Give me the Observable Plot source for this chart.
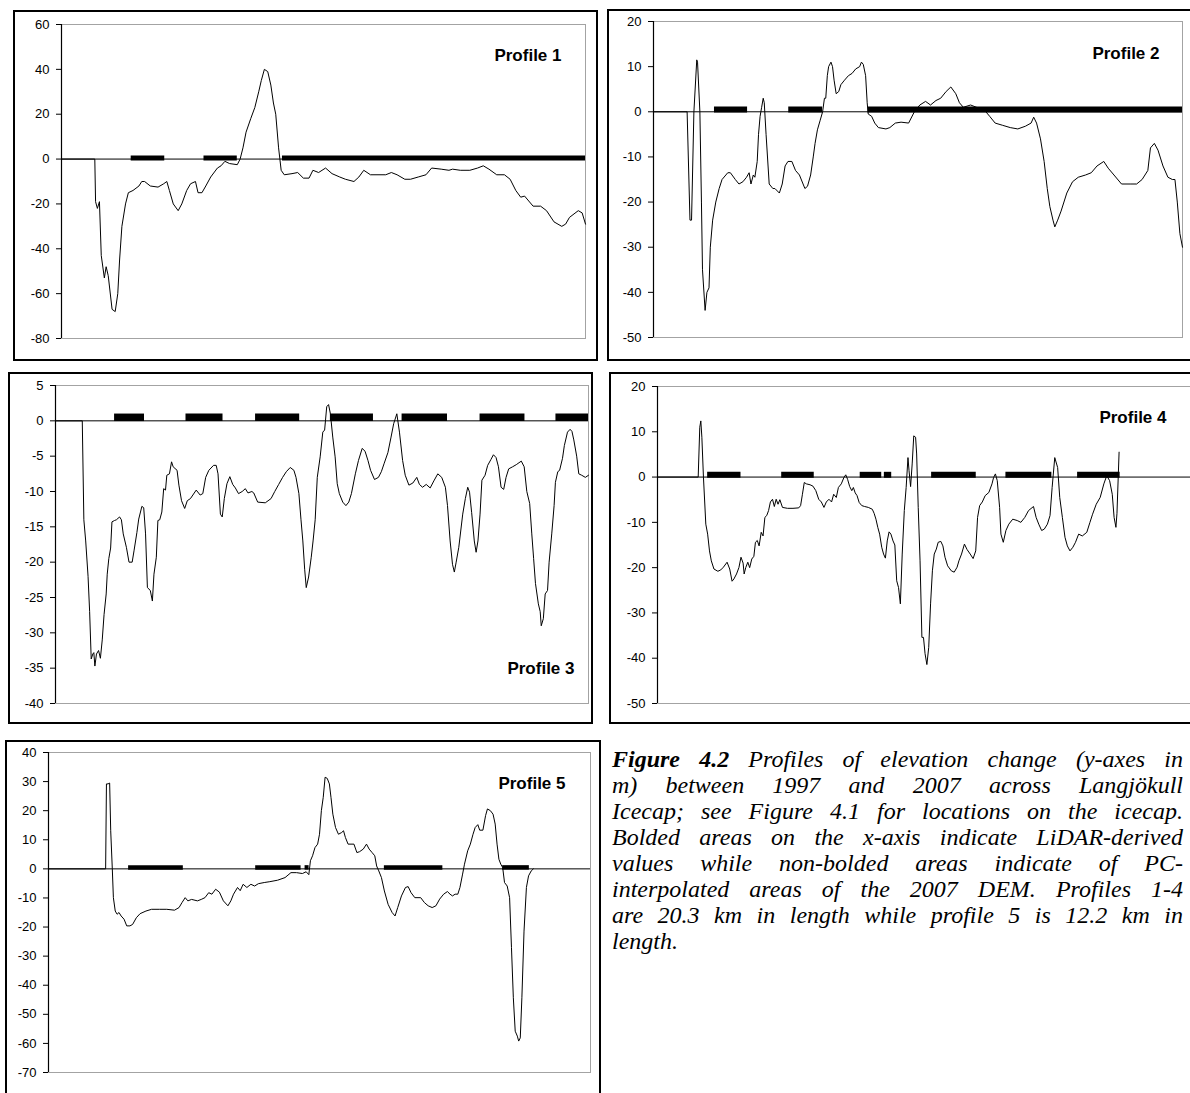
<!DOCTYPE html>
<html><head><meta charset="utf-8">
<script src="https://cdn.jsdelivr.net/npm/d3@7"></script>
<script src="https://cdn.jsdelivr.net/npm/@observablehq/plot@0.6"></script>
<style>
body{margin:0;background:#fff;}
#page{position:relative;width:1190px;height:1093px;overflow:hidden;background:#fff;}
.box{position:absolute;border:2px solid #000;box-sizing:border-box;pointer-events:none;}
#caption{position:absolute;left:612px;top:746px;width:571px;font-family:"Liberation Serif","Times New Roman",serif;font-style:italic;font-size:24px;line-height:26px;color:#000;}
#caption .ln{text-align:justify;text-align-last:justify;white-space:normal;}
#caption .last{text-align:left;}
</style></head>
<body><div id="page"></div>
<script>
// ---- data: distance along profile (km), elevation change (m) ----
const xDomain = [0, 20.3];
const boldLevel = 0.5;

const profile1 = [[0,0],[1.29,0],[1.32,-19],[1.39,-22],[1.47,-19],[1.54,-43],[1.66,-53],[1.73,-48],[1.81,-52],[1.96,-67],[2.08,-68],[2.18,-60],[2.25,-45],[2.34,-30],[2.48,-20],[2.59,-15],[2.77,-14],[3.00,-12],[3.11,-10],[3.22,-10],[3.44,-12],[3.74,-12.5],[3.96,-11],[4.08,-10],[4.18,-14],[4.33,-20],[4.52,-23],[4.66,-20],[4.85,-14],[5.00,-11],[5.19,-10],[5.29,-15],[5.44,-15],[5.59,-12],[5.78,-8],[6.04,-4],[6.18,-3],[6.33,-1],[6.51,-2],[6.81,-2.5],[6.92,0],[7.03,5],[7.15,12],[7.33,18],[7.49,23],[7.64,30],[7.74,35],[7.86,40],[7.99,39],[8.11,33],[8.21,25],[8.30,20],[8.41,5],[8.51,-5],[8.63,-7],[8.93,-6.5],[9.15,-6],[9.37,-8.5],[9.59,-8.5],[9.74,-5],[9.96,-6],[10.23,-4],[10.48,-6.5],[10.78,-8],[11.00,-9],[11.33,-10],[11.52,-8],[11.71,-5],[11.97,-7],[12.56,-7],[12.78,-6],[13.00,-7],[13.30,-9],[13.52,-9],[13.82,-8],[14.12,-7],[14.34,-4],[14.71,-4.5],[15.01,-5],[15.15,-4.5],[15.45,-5],[15.82,-5],[16.12,-4],[16.34,-3],[16.56,-4.5],[16.86,-7],[17.16,-7],[17.38,-9],[17.60,-14],[17.79,-17],[17.94,-16.5],[18.27,-21],[18.56,-21],[18.79,-23],[19.08,-28],[19.38,-30],[19.53,-29],[19.68,-26],[20.02,-23],[20.17,-24],[20.30,-29]];
const bold1 = [[2.70,4.00],[5.52,6.81],[8.56,20.3]];
const ticks1 = [60,40,20,0,-20,-40,-60,-80];

const profile2 = [[0,0],[1.29,0],[1.40,-24],[1.46,-24],[1.55,0],[1.66,11.5],[1.69,11],[1.78,0],[1.84,-20],[1.88,-35],[1.98,-44],[2.05,-40],[2.13,-39],[2.18,-30],[2.27,-24],[2.39,-20],[2.52,-17],[2.63,-15],[2.85,-13.5],[2.95,-13.5],[3.14,-15],[3.28,-16],[3.43,-15.5],[3.57,-14.5],[3.67,-13.5],[3.74,-16],[3.83,-14],[3.89,-14.5],[3.98,-11],[4.03,-5],[4.09,-1],[4.15,1],[4.21,3],[4.25,2],[4.32,-5],[4.44,-16],[4.58,-17],[4.66,-17],[4.83,-18],[4.94,-16],[5.05,-12],[5.16,-11],[5.31,-11],[5.45,-13],[5.60,-14],[5.81,-17],[5.91,-16.5],[6.03,-14],[6.13,-10],[6.20,-7],[6.29,-4],[6.39,-2],[6.49,0],[6.56,3],[6.61,3],[6.67,8],[6.72,10],[6.81,11],[6.87,10],[6.93,7],[7.01,4],[7.11,4.5],[7.19,6],[7.33,7],[7.48,8],[7.62,8.5],[7.76,9.5],[7.91,10],[7.98,11],[8.05,10.5],[8.14,8],[8.20,2],[8.24,-0.5],[8.37,-1],[8.49,-2.5],[8.63,-3.5],[8.92,-3.8],[9.07,-3.5],[9.28,-2.5],[9.50,-2.3],[9.79,-2.5],[10.01,0],[10.22,1.5],[10.44,2.3],[10.63,1.5],[10.84,2.5],[11.02,3],[11.23,4.5],[11.41,5.5],[11.60,4],[11.74,2],[11.89,1],[12.17,1.5],[12.39,1],[12.68,0.5],[12.90,-1],[13.11,-2.5],[13.40,-3],[13.69,-3.5],[13.98,-3.8],[14.27,-3.2],[14.49,-2.5],[14.59,-1.2],[14.70,-2.5],[14.85,-6],[14.99,-11],[15.11,-17],[15.21,-21],[15.33,-24],[15.40,-25.5],[15.51,-24],[15.64,-22],[15.86,-18],[16.08,-15.5],[16.30,-14.5],[16.58,-14],[16.80,-13.5],[17.02,-12],[17.28,-11],[17.45,-12.5],[17.67,-14],[17.96,-16],[18.32,-16],[18.54,-16],[18.75,-15],[18.97,-13],[19.07,-8],[19.22,-7],[19.36,-8.5],[19.55,-12],[19.74,-14.5],[19.91,-15],[20.01,-15],[20.10,-20],[20.20,-27],[20.30,-30]];
const bold2 = [[2.34,3.61],[5.19,6.49],[8.23,20.3]];
const ticks2 = [20,10,0,-10,-20,-30,-40,-50];

const profile3 = [[0,0],[1.02,0],[1.08,-14],[1.15,-17],[1.24,-22],[1.30,-27],[1.36,-33.7],[1.42,-33],[1.46,-32.8],[1.50,-34.7],[1.56,-33],[1.64,-32.5],[1.71,-33.6],[1.78,-31],[1.85,-27.4],[1.93,-24.5],[1.97,-21.7],[2.03,-19.5],[2.10,-18],[2.15,-14.3],[2.25,-14.1],[2.32,-14],[2.44,-13.6],[2.51,-14],[2.58,-16],[2.70,-17.9],[2.80,-20],[2.92,-20],[2.99,-18.4],[3.10,-15.8],[3.17,-13.9],[3.29,-12.1],[3.36,-12.3],[3.43,-16],[3.50,-23.6],[3.61,-24],[3.69,-25.5],[3.75,-21.7],[3.84,-19.3],[3.90,-14.1],[3.97,-14],[4.05,-12.9],[4.12,-9.6],[4.19,-9.8],[4.24,-7.7],[4.34,-7.5],[4.42,-5.8],[4.48,-6.5],[4.63,-7],[4.70,-9.1],[4.80,-11.3],[4.92,-12.4],[5.02,-11.3],[5.14,-11],[5.36,-9.8],[5.51,-10.5],[5.61,-10.3],[5.72,-8],[5.84,-7],[6.02,-6.3],[6.12,-6.3],[6.19,-7.5],[6.28,-13.2],[6.35,-13.6],[6.43,-11],[6.53,-8.9],[6.64,-7.9],[6.75,-9],[6.85,-9.5],[6.97,-10.3],[7.11,-10],[7.23,-9.6],[7.33,-10.2],[7.48,-10],[7.55,-10.2],[7.70,-11.5],[7.99,-11.6],[8.21,-11],[8.35,-10],[8.50,-9],[8.65,-8],[8.79,-7.2],[8.94,-6.6],[9.08,-7],[9.16,-8],[9.27,-10.3],[9.35,-14],[9.42,-17],[9.49,-21],[9.55,-23.6],[9.64,-22.1],[9.74,-19.3],[9.81,-17],[9.89,-14],[9.97,-8],[10.08,-5.1],[10.18,-1.6],[10.25,-1.3],[10.33,2],[10.40,2.3],[10.47,1],[10.56,-2.3],[10.65,-5.1],[10.73,-8.9],[10.81,-10.3],[10.94,-11.5],[11.06,-12],[11.17,-11.5],[11.27,-10.3],[11.42,-7.5],[11.54,-5.6],[11.68,-3.9],[11.79,-4.3],[11.90,-5.6],[12.00,-7],[12.15,-8.3],[12.30,-8],[12.41,-7.2],[12.52,-6],[12.66,-4.5],[12.78,-2.3],[12.88,-0.4],[13.00,1],[13.10,-1.6],[13.22,-5.6],[13.32,-7.7],[13.46,-9.1],[13.61,-8.8],[13.76,-8],[13.86,-9],[13.98,-9.4],[14.12,-9],[14.27,-9.5],[14.41,-8.5],[14.56,-7.5],[14.71,-8],[14.85,-9.4],[14.93,-12],[15.03,-17],[15.12,-20.3],[15.19,-21.4],[15.26,-20],[15.36,-17.9],[15.51,-13.2],[15.61,-11],[15.70,-9.4],[15.77,-10.1],[15.85,-13],[15.95,-17],[16.02,-18.6],[16.09,-17],[16.17,-13.2],[16.24,-8.4],[16.36,-7.7],[16.46,-6.3],[16.58,-5.5],[16.68,-4.8],[16.78,-5.2],[16.87,-6.5],[16.97,-9.4],[17.07,-9.7],[17.16,-8],[17.26,-6.8],[17.41,-6.5],[17.55,-6.2],[17.74,-5.7],[17.85,-6.5],[17.95,-10],[18.06,-11.7],[18.14,-16],[18.21,-19.5],[18.28,-23],[18.39,-25.9],[18.46,-27],[18.50,-29],[18.58,-28],[18.65,-24.5],[18.74,-24],[18.80,-20],[18.90,-16],[18.99,-12],[19.04,-8.7],[19.13,-7.2],[19.20,-7],[19.31,-5.3],[19.38,-3.5],[19.50,-1.6],[19.60,-1.2],[19.67,-1.5],[19.74,-2.7],[19.85,-5],[19.93,-7.5],[20.04,-7.7],[20.18,-8],[20.30,-7.7]];
const bold3 = [[2.25,3.39],[4.97,6.38],[7.62,9.30],[10.47,12.11],[13.20,14.93],[16.17,17.88],[19.06,20.3]];
const ticks3 = [5,0,-5,-10,-15,-20,-25,-30,-35,-40];

const profile4 = [[0,0],[1.55,0],[1.61,11],[1.65,12.4],[1.69,8.8],[1.75,0],[1.84,-10.4],[1.91,-12.6],[1.98,-16.3],[2.05,-18.5],[2.15,-20.3],[2.30,-20.8],[2.41,-20.5],[2.51,-19.9],[2.65,-18.8],[2.75,-20.3],[2.84,-23],[2.91,-22.5],[3.01,-21.4],[3.10,-20],[3.18,-17.7],[3.26,-19],[3.30,-21.4],[3.36,-20],[3.44,-18.8],[3.51,-20],[3.59,-18.1],[3.67,-17.5],[3.73,-14.4],[3.80,-14],[3.87,-15.2],[3.95,-12.2],[4.02,-13],[4.09,-8.9],[4.16,-8.5],[4.23,-7.4],[4.30,-5.5],[4.38,-4.9],[4.45,-6.5],[4.52,-4.9],[4.59,-6],[4.66,-5],[4.76,-6.7],[4.95,-6.9],[5.16,-6.9],[5.38,-6.8],[5.45,-6.3],[5.52,-3.8],[5.59,-1.2],[5.67,-1.5],[5.81,-1.7],[5.92,-2],[6.03,-3],[6.14,-4.9],[6.24,-5.5],[6.34,-6.7],[6.43,-5.5],[6.53,-4.9],[6.63,-5.5],[6.71,-3.8],[6.81,-4.5],[6.89,-2.3],[7.00,-1.5],[7.10,-0.1],[7.17,0.5],[7.24,-0.5],[7.32,-2.1],[7.40,-3],[7.46,-2.3],[7.53,-3.5],[7.60,-4.1],[7.68,-5.6],[7.78,-6.3],[7.89,-6.5],[8.03,-6.7],[8.18,-7.1],[8.25,-8],[8.32,-9.3],[8.39,-11.1],[8.46,-12.6],[8.54,-15.5],[8.61,-17],[8.68,-17.9],[8.75,-14.1],[8.82,-12.1],[8.89,-12.6],[8.97,-14.1],[9.04,-15],[9.11,-22.9],[9.18,-24.4],[9.25,-28],[9.32,-17],[9.40,-7.4],[9.47,-2.3],[9.54,4.3],[9.58,1.4],[9.64,-2.1],[9.70,2.9],[9.76,9.1],[9.83,8.8],[9.87,5.1],[9.93,-6.7],[10.00,-18.5],[10.07,-35.4],[10.13,-35.4],[10.19,-39],[10.26,-41.4],[10.33,-37.6],[10.40,-28],[10.47,-20.7],[10.54,-17],[10.62,-15.9],[10.69,-14.4],[10.79,-14.2],[10.87,-15.2],[10.95,-17.7],[11.05,-19.6],[11.19,-20.7],[11.30,-21],[11.41,-19.9],[11.48,-18.5],[11.58,-17],[11.69,-14.8],[11.79,-16],[11.91,-17],[12.02,-18],[12.12,-16.3],[12.19,-8.9],[12.27,-6.3],[12.37,-5.5],[12.48,-4.1],[12.62,-3.4],[12.74,-1.5],[12.80,-0.1],[12.87,0.7],[12.94,-0.8],[13.03,-6.7],[13.08,-12.6],[13.17,-14.4],[13.27,-11.8],[13.38,-10.4],[13.53,-9.3],[13.70,-9.6],[13.84,-10],[13.99,-8.9],[14.13,-7.4],[14.32,-6.5],[14.42,-8.9],[14.52,-10.4],[14.63,-11.8],[14.73,-11.5],[14.85,-10.4],[14.95,-8.5],[15.03,-2.3],[15.13,4.3],[15.24,2.1],[15.32,-4.5],[15.42,-8.9],[15.52,-13.3],[15.61,-15.2],[15.71,-16.3],[15.82,-15.5],[15.92,-14.4],[16.04,-12.6],[16.18,-13],[16.35,-12.2],[16.47,-10],[16.57,-8.2],[16.71,-6],[16.86,-4.5],[17.00,-1.5],[17.11,0.3],[17.22,-0.8],[17.32,-3.8],[17.39,-8.9],[17.46,-11.1],[17.50,-8],[17.58,5.5]];
const bold4 = [[1.91,3.18],[4.73,5.97],[7.72,8.54],[8.64,8.92],[10.44,12.14],[13.27,15.02],[16.00,17.62]];
const ticks4 = [20,10,0,-10,-20,-30,-40,-50];

const profile5 = [[0,0],[2.14,0],[2.17,29.2],[2.23,29.2],[2.29,29.5],[2.33,13.1],[2.39,0],[2.43,-9.9],[2.50,-14.5],[2.57,-15.6],[2.64,-15],[2.72,-16.2],[2.83,-17.3],[2.93,-19.6],[3.05,-19.6],[3.15,-19.1],[3.29,-16.8],[3.43,-15.4],[3.65,-14.5],[3.86,-13.9],[4.15,-13.9],[4.43,-13.9],[4.72,-14.2],[4.89,-13.3],[5.00,-11.6],[5.12,-9.9],[5.22,-11],[5.36,-10.5],[5.58,-11],[5.72,-10.5],[5.86,-9.9],[6.00,-8.2],[6.12,-8.7],[6.26,-7],[6.40,-8],[6.55,-11],[6.72,-12.7],[6.83,-11],[6.93,-8.7],[7.08,-6.4],[7.18,-7.5],[7.29,-5.3],[7.43,-6.4],[7.58,-5.3],[7.72,-5.9],[7.86,-5.1],[8.08,-4.7],[8.29,-4.4],[8.58,-3.9],[8.86,-3],[9.08,-1.3],[9.29,-1.3],[9.51,-1.6],[9.65,-1],[9.75,-2],[9.81,2.8],[9.89,4.5],[9.98,7.3],[10.08,8.5],[10.15,11.9],[10.22,20],[10.29,24.6],[10.36,31.5],[10.44,31.1],[10.52,29.2],[10.58,24.6],[10.65,18.8],[10.75,14.2],[10.86,11.9],[10.98,12.5],[11.05,13.1],[11.12,10.8],[11.22,8.5],[11.44,8.5],[11.55,5.6],[11.65,5.9],[11.79,6.8],[11.91,8.5],[12.01,6.8],[12.12,5.6],[12.22,4.5],[12.29,1],[12.37,-0.7],[12.47,-3],[12.58,-7.6],[12.72,-12.2],[12.87,-15],[12.98,-16.2],[13.08,-13.3],[13.22,-9.3],[13.37,-6.4],[13.47,-6.1],[13.58,-8.2],[13.72,-9.9],[13.94,-9.9],[14.08,-11.6],[14.22,-12.7],[14.37,-13.3],[14.51,-12.7],[14.65,-10.4],[14.80,-8.7],[14.94,-7.8],[15.04,-8.7],[15.13,-9.3],[15.23,-8.7],[15.33,-8.7],[15.41,-6.4],[15.51,-1.8],[15.58,1.6],[15.70,6.2],[15.80,8.5],[15.90,11.9],[15.98,14.2],[16.08,15.2],[16.15,13.3],[16.27,13.3],[16.37,18.3],[16.44,20.6],[16.55,20],[16.65,18.8],[16.73,15.4],[16.80,8.5],[16.87,3.3],[16.94,1.6],[17.01,0.5],[17.08,-4.7],[17.18,-5.9],[17.27,-9.9],[17.34,-27.1],[17.41,-44.3],[17.48,-55.8],[17.56,-57.5],[17.61,-59.2],[17.67,-58.1],[17.73,-44.3],[17.81,-21.4],[17.90,-6.4],[17.98,-2.4],[18.08,-0.7],[18.16,0]];
const bold5 = [[3.00,5.05],[7.76,9.46],[9.61,9.76],[12.58,14.77],[17.01,18.01]];
const ticks5 = [40,30,20,10,0,-10,-20,-30,-40,-50,-60,-70];

const labels = ["Profile 1","Profile 2","Profile 3","Profile 4","Profile 5"];

// ---- layout (page pixels) ----
const panels = [
  {data: profile1, bold: bold1, ticks: ticks1, y: [-80,60], label: labels[0], box:[13,10,598,361], frame:[61,24,585,338], anchor:"top-right", dx:-24, dy:31, bw:5},
  {data: profile2, bold: bold2, ticks: ticks2, y: [-50,20], label: labels[1], box:[607,9,1196,361], frame:[653,21,1182,337], anchor:"top-right", dx:-23, dy:32, bw:6},
  {data: profile3, bold: bold3, ticks: ticks3, y: [-40,5], label: labels[2], box:[8,372,593,724], frame:[55,385,588,703], anchor:"bottom-right", dx:-14, dy:-35, bw:7.5},
  {data: profile4, bold: bold4, ticks: ticks4, y: [-50,20], label: labels[3], box:[609,372,1196,724], frame:[657,386,1190,703], anchor:"top-right", dx:-24, dy:31, bw:6},
  {data: profile5, bold: bold5, ticks: ticks5, y: [-70,40], label: labels[4], box:[5,740,601,1100], frame:[48,752,590,1072], anchor:"top-right", dx:-25, dy:31, bw:4.5}
];

const page = document.getElementById("page");
for (const p of panels) {
  const [bl, bt, br, bb] = p.box, [fl, ft, fr, fb] = p.frame;
  const chart = Plot.plot({
    width: br - bl, height: bb - bt,
    marginLeft: fl - bl, marginTop: ft - bt, marginRight: br - fr, marginBottom: bb - fb,
    x: {domain: xDomain, axis: null},
    y: {domain: p.y, axis: null},
    style: {fontFamily: "'Liberation Sans', Arial, sans-serif", color: "#000", background: "transparent", overflow: "visible"},
    marks: [
      Plot.frame({stroke: "#a3a3a3", strokeWidth: 1}),
      Plot.ruleY([0], {stroke: "#000", strokeWidth: 1}),
      Plot.ruleY(p.bold, {x1: d => d[0], x2: d => d[1], y: () => boldLevel, stroke: "#000", strokeWidth: p.bw}),
      Plot.line(p.data, {x: d => d[0], y: d => d[1], stroke: "#000", strokeWidth: 1}),
      Plot.ruleX([xDomain[0]], {stroke: "#000", strokeWidth: 1.2}),
      Plot.axisY({ticks: p.ticks, tickSize: 5, tickPadding: 7, tickFormat: d => String(d), fontSize: 13, label: null, stroke: "#000"}),
      Plot.text([p.label], {frameAnchor: p.anchor, dx: p.dx, dy: p.dy, textAnchor: "end", lineAnchor: "middle", fontSize: 17, fontWeight: "bold", fill: "#000"})
    ]
  });
  chart.style.position = "absolute";
  chart.style.left = bl + "px";
  chart.style.top = bt + "px";
  page.appendChild(chart);
  const box = document.createElement("div");
  box.className = "box";
  box.style.left = bl + "px"; box.style.top = bt + "px";
  box.style.width = (br - bl) + "px"; box.style.height = (bb - bt) + "px";
  page.appendChild(box);
}

// ---- caption ----
const captionLines = [
  "Profiles of elevation change (y-axes in",
  "m) between 1997 and 2007 across Langjökull",
  "Icecap; see Figure 4.1 for locations on the icecap.",
  "Bolded areas on the x-axis indicate LiDAR-derived",
  "values while non-bolded areas indicate of PC-",
  "interpolated areas of the 2007 DEM. Profiles 1-4",
  "are 20.3 km in length while profile 5 is 12.2 km in",
  "length."
];
const cap = document.createElement("div");
cap.id = "caption";
captionLines.forEach((t, i) => {
  const d = document.createElement("div");
  d.className = i < captionLines.length - 1 ? "ln" : "last";
  if (i === 0) {
    const b = document.createElement("b");
    b.textContent = "Figure 4.2";
    d.appendChild(b);
    d.appendChild(document.createTextNode(" " + t));
  } else d.textContent = t;
  cap.appendChild(d);
});
page.appendChild(cap);
</script></body></html>
